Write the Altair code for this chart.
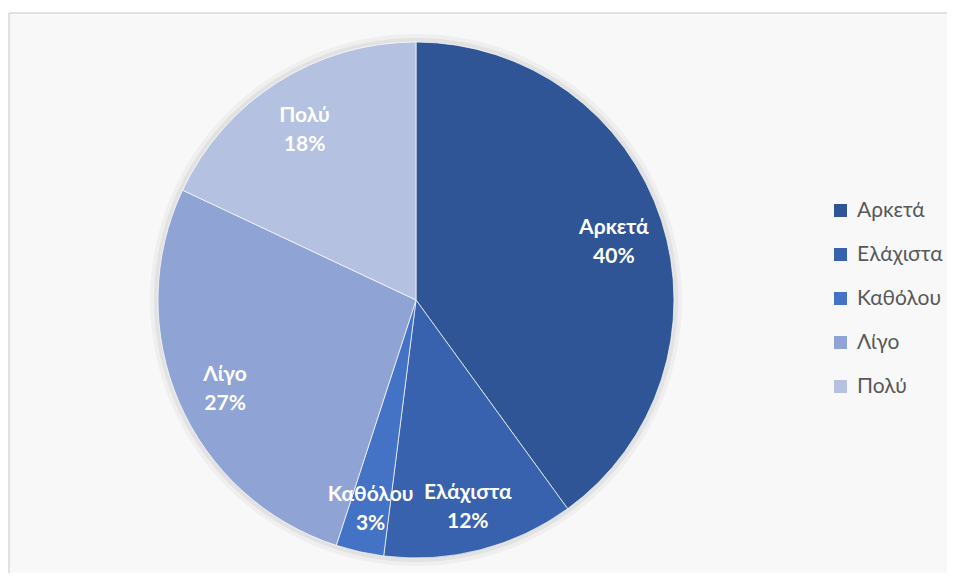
import altair as alt
import pandas as pd

categories = ["Αρκετά", "Ελάχιστα", "Καθόλου", "Λίγο", "Πολύ"]
values = [40, 12, 3, 27, 18]
colors = ["#2F5597", "#3862AE", "#4472C4", "#8FA3D5", "#B4C1E1"]

df = pd.DataFrame({"cat": categories, "val": values, "idx": list(range(len(categories)))})
df["label"] = [f"{c}\n{v}%" for c, v in zip(categories, values)]

W, H = 938, 560
CX, CY = 407, 287

base = alt.Chart(df).encode(
    theta=alt.Theta("val:Q", stack=True),
    order=alt.Order("idx:Q"),
)

shadow = alt.Chart(df.iloc[:1]).mark_arc(outerRadius=266, color="#000000", opacity=0.035).encode(
    x=alt.value(CX), y=alt.value(CY), theta=alt.value(6.2832)
)
shadow2 = alt.Chart(df.iloc[:1]).mark_arc(outerRadius=262, color="#000000", opacity=0.05).encode(
    x=alt.value(CX), y=alt.value(CY), theta=alt.value(6.2832)
)

arc = base.mark_arc(outerRadius=258, stroke="#ffffff", strokeWidth=0.7).encode(
    x=alt.value(CX),
    y=alt.value(CY),
    color=alt.Color(
        "cat:N",
        scale=alt.Scale(domain=categories, range=colors),
        legend=alt.Legend(
            title=None,
            orient="none",
            legendX=821,
            legendY=187,
            symbolType="square",
            symbolSize=170,
            symbolStrokeWidth=0,
            labelFontSize=21,
            labelFont="Lato",
            labelColor="#595959",
            labelOffset=6,
            rowPadding=22,
        ),
    ),
)

text = base.mark_text(
    radius=208, fontSize=21, fontWeight="bold", font="Lato", color="#ffffff",
    lineBreak="\n", lineHeight=29, baseline="middle", align="center", dy=-8,
).encode(x=alt.value(CX), y=alt.value(CY), text="label:N")

frame_left = alt.Chart(df.iloc[:1]).mark_rule(color="#D9D9D9", strokeWidth=1.5).encode(
    x=alt.value(0), y=alt.value(0), y2=alt.value(H)
)
frame_top = alt.Chart(df.iloc[:1]).mark_rule(color="#D9D9D9", strokeWidth=1.5).encode(
    x=alt.value(0), x2=alt.value(W), y=alt.value(0)
)

chart = alt.layer(shadow, shadow2, arc, text, frame_left, frame_top).properties(
    width=W, height=H, padding={"left": 0, "top": 4, "right": 0, "bottom": 0},
    background="#ffffff",
).configure_view(stroke=None, fill="#F8F8F8")

chart.save("out.html", embed_options={"renderer": "svg", "actions": False})
